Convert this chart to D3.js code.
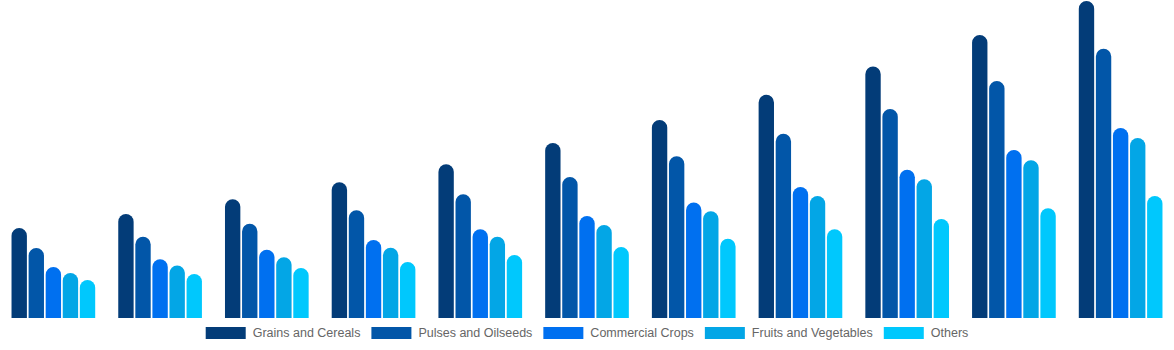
<!DOCTYPE html>
<html>
<head>
<meta charset="utf-8">
<script src="https://cdn.jsdelivr.net/npm/d3@7"></script>
<style>
  html, body { margin: 0; padding: 0; background: #fff; }
  svg { display: block; }
</style>
</head>
<body>
<svg id="chart" width="1174" height="350"></svg>
<script>
const categories = ["2013","2014","2015","2016","2017","2018","2019","2020","2021","2022","2023"];
const seriesNames = ["Grains and Cereals","Pulses and Oilseeds","Commercial Crops","Fruits and Vegetables","Others"];
const grains      = [28.4, 32.8, 37.5, 42.8, 48.5, 55.2, 62.5, 70.4, 79.3, 89.3, 100.0];
const pulses      = [22.1, 25.6, 29.7, 34.0, 39.0, 44.5, 51.0, 58.1, 65.9, 74.8, 84.9];
const commercial  = [16.1, 18.5, 21.5, 24.6, 28.0, 32.2, 36.4, 41.3, 46.8, 53.0, 59.9];
const fruits      = [14.2, 16.6, 19.2, 22.2, 25.6, 29.3, 33.7, 38.5, 43.8, 49.8, 56.8];
const others      = [12.0, 13.9, 15.8, 17.7, 19.9, 22.4, 25.0, 28.0, 31.2, 34.6, 38.5];
const colors = ["#033c78", "#0256a8", "#0070f0", "#03a6e6", "#00c8fd"];

const seriesValues = [grains, pulses, commercial, fruits, others];

const svg = d3.select("#chart");
const W = 1174;
const plotTop = 1, plotBottom = 318;

const x0 = d3.scaleBand().domain(categories).range([0, W]).paddingInner(0.2).paddingOuter(0.1);
const x1 = d3.scaleBand().domain(seriesNames).range([0, x0.bandwidth()]).paddingInner(0.1).paddingOuter(0.05);
const y = d3.scaleLinear().domain([0, 100]).range([plotBottom, plotTop]);

function barPath(x, yTop, w, yBase) {
  const r = Math.min(w / 2, yBase - yTop);
  return `M${x},${yBase}V${yTop + r}A${r},${r} 0 0 1 ${x + r},${yTop}` +
         `H${x + w - r}A${r},${r} 0 0 1 ${x + w},${yTop + r}V${yBase}Z`;
}

const groups = svg.append("g").selectAll("g")
  .data(categories)
  .join("g")
  .attr("transform", d => `translate(${x0(d)},0)`);

groups.selectAll("path")
  .data((c, ci) => seriesNames.map((s, si) => ({ s, si, v: seriesValues[si][ci] })))
  .join("path")
  .attr("d", d => barPath(x1(d.s), y(d.v), x1.bandwidth(), y(0)))
  .attr("fill", d => colors[d.si]);

// Legend
const legend = svg.append("g");
const boxW = 40, boxH = 12, fontSize = 12.5, gapText = 7, gapItem = 11;
const legendY = 327;
const items = legend.selectAll("g").data(seriesNames).join("g");
items.append("rect")
  .attr("width", boxW).attr("height", boxH)
  .attr("y", legendY)
  .attr("fill", (d, i) => colors[i]);
items.append("text")
  .attr("x", boxW + gapText)
  .attr("y", legendY + boxH / 2)
  .attr("dy", "0.35em")
  .attr("font-family", "'Liberation Sans', Arial, Helvetica, sans-serif")
  .attr("font-size", fontSize)
  .attr("fill", "#666")
  .text(d => d);

let widths = [];
items.each(function() {
  const t = d3.select(this).select("text").node().getComputedTextLength();
  widths.push(boxW + gapText + t);
});
const total = d3.sum(widths) + gapItem * (widths.length - 1);
let cx = (W - total) / 2;
items.each(function(d, i) {
  d3.select(this).attr("transform", `translate(${cx},0)`);
  cx += widths[i] + gapItem;
});
</script>
</body>
</html>
